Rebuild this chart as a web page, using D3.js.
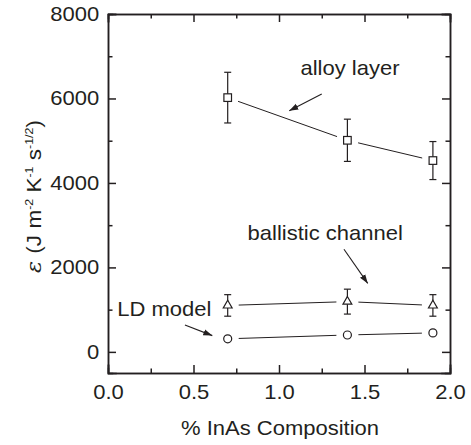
<!DOCTYPE html>
<meta charset="utf-8">
<style>
	body { margin: 0; background: #fff; }
	text { font-family: "Liberation Sans", Arial, sans-serif; fill: #231f20; }
	.axis path, .axis line { stroke: #231f20; stroke-width: 1.5px; }
	.dline { fill: none; stroke: #231f20; stroke-width: 1px; }
	.err { stroke: #231f20; stroke-width: 1.2px; }
	.mark { fill: #fff; stroke: #231f20; stroke-width: 1.2px; }
</style>
<body>
<script src="https://cdn.jsdelivr.net/npm/d3@7"></script>
<script>

// Data
var composition = [0.7, 1.4, 1.9];
var alloyLayer = [6020, 5010, 4530];
var alloyErr = [600, 500, 450];
var ballistic = [1100, 1190, 1100];
var ballisticErr = [255, 295, 255];
var ldModel = [310, 400, 450];

var xTicks = [0, 0.5, 1.0, 1.5, 2.0];
var xMinor = [0.25, 0.75, 1.25, 1.75];
var yTicks = [0, 2000, 4000, 6000, 8000];
var yMinor = [1000, 3000, 5000, 7000];

// annotations in data units
var notes = [
	{text: "alloy layer", x: 1.415, y: 6560, ax1: 1.25, ay1: 6105, ax2: 1.06, ay2: 5711},
	{text: "ballistic channel", x: 1.27, y: 2650, ax1: 1.38, ay1: 2431, ax2: 1.519, ay2: 1621},
	{text: "LD model", x: 0.329, y: 850, ax1: 0.45, ay1: 637, ax2: 0.61, ay2: 385}
];

var W = 471, H = 445;
var margin = {top: 14, right: 21, bottom: 72, left: 108},
	width = W - margin.left - margin.right,
	height = H - margin.top - margin.bottom;

var x = d3.scaleLinear().domain([0, 2]).range([0, width]);
var y = d3.scaleLinear().domain([-500, 8000]).range([height, 0]);

var svg = d3.select("body").append("svg")
		.attr("width", W)
		.attr("height", H)
	.append("g")
		.attr("transform", "translate(" + margin.left + "," + margin.top + ")");

svg.append("defs").append("marker")
	.attr("id", "arr")
	.attr("viewBox", "0 0 10 10")
	.attr("refX", 10).attr("refY", 5)
	.attr("markerWidth", 9).attr("markerHeight", 9)
	.attr("markerUnits", "userSpaceOnUse")
	.attr("orient", "auto")
	.append("path").attr("d", "M0,1.5 L10,5 L0,8.5 Z").attr("fill", "#231f20");

var stretch = "scale(1.1,1)";

// Axes (ticks pointing inward)
var gx = svg.append("g").attr("class", "axis").attr("transform", "translate(0," + height + ")")
	.call(d3.axisBottom(x).tickValues(xTicks).tickFormat(d3.format(".1f")).tickSize(-8).tickPadding(12));
gx.selectAll("text").style("font-size", "20px").attr("transform", stretch);
svg.append("g").attr("class", "axis").attr("transform", "translate(0," + height + ")")
	.call(d3.axisBottom(x).tickValues(xMinor).tickFormat("").tickSize(-4.5));

svg.append("g").attr("class", "axis")
	.call(d3.axisTop(x).tickValues(xTicks).tickFormat("").tickSize(-8));
svg.append("g").attr("class", "axis")
	.call(d3.axisTop(x).tickValues(xMinor).tickFormat("").tickSize(-4.5));

var gy = svg.append("g").attr("class", "axis")
	.call(d3.axisLeft(y).tickValues(yTicks).tickFormat(d3.format("d")).tickSize(-8).tickPadding(8));
gy.selectAll("text").style("font-size", "20px").attr("transform", stretch);
svg.append("g").attr("class", "axis")
	.call(d3.axisLeft(y).tickValues(yMinor).tickFormat("").tickSize(-4.5));

svg.append("g").attr("class", "axis").attr("transform", "translate(" + width + ",0)")
	.call(d3.axisRight(y).tickValues(yTicks).tickFormat("").tickSize(-8));
svg.append("g").attr("class", "axis").attr("transform", "translate(" + width + ",0)")
	.call(d3.axisRight(y).tickValues(yMinor).tickFormat("").tickSize(-4.5));

svg.selectAll(".axis .domain").attr("stroke-linecap", "square");

// connecting lines with gaps around markers
function drawSeries(vals, gap) {
	var pts = composition.map(function(c, i) { return [x(c), y(vals[i])]; });
	for (var i = 0; i < pts.length - 1; i++) {
		var a = pts[i], b = pts[i + 1];
		var dx = b[0] - a[0], dy = b[1] - a[1], L = Math.sqrt(dx * dx + dy * dy);
		svg.append("line").attr("class", "dline")
			.attr("x1", a[0] + dx / L * gap).attr("y1", a[1] + dy / L * gap)
			.attr("x2", b[0] - dx / L * gap).attr("y2", b[1] - dy / L * gap);
	}
}
drawSeries(alloyLayer, 11);
drawSeries(ballistic, 11);
drawSeries(ldModel, 11);

function drawErr(vals, errs) {
	composition.forEach(function(c, i) {
		var cx = x(c), t = y(vals[i] + errs[i]), b = y(vals[i] - errs[i]);
		svg.append("line").attr("class", "err").attr("x1", cx).attr("x2", cx).attr("y1", t).attr("y2", b);
		svg.append("line").attr("class", "err").attr("x1", cx - 3.5).attr("x2", cx + 3.5).attr("y1", t).attr("y2", t);
		svg.append("line").attr("class", "err").attr("x1", cx - 3.5).attr("x2", cx + 3.5).attr("y1", b).attr("y2", b);
	});
}
drawErr(alloyLayer, alloyErr);
drawErr(ballistic, ballisticErr);

svg.selectAll(".sq").data(composition).enter().append("rect")
	.attr("class", "mark")
	.attr("x", function(d) { return x(d) - 3.8; })
	.attr("y", function(d, i) { return y(alloyLayer[i]) - 3.8; })
	.attr("width", 7.6).attr("height", 7.6);

var tri = d3.symbol().type(d3.symbolTriangle).size(34);
svg.selectAll(".tri").data(composition).enter().append("path")
	.attr("class", "mark")
	.attr("d", tri)
	.attr("transform", function(d, i) { return "translate(" + x(d) + "," + y(ballistic[i]) + ")"; });

svg.selectAll(".circ").data(composition).enter().append("circle")
	.attr("class", "mark")
	.attr("cx", function(d) { return x(d); })
	.attr("cy", function(d, i) { return y(ldModel[i]); })
	.attr("r", 4);

// annotations
notes.forEach(function(n) {
	svg.append("text")
		.attr("transform", "translate(" + x(n.x) + "," + y(n.y) + ") " + stretch)
		.style("text-anchor", "middle")
		.style("font-size", "20px")
		.text(n.text);
	svg.append("line")
		.attr("x1", x(n.ax1)).attr("y1", y(n.ay1))
		.attr("x2", x(n.ax2)).attr("y2", y(n.ay2))
		.attr("stroke", "#231f20").attr("stroke-width", 1.1)
		.attr("marker-end", "url(#arr)");
});

// axis titles
svg.append("text")
	.attr("transform", "translate(" + (width / 2 + 1) + "," + (height + 62) + ") " + stretch)
	.style("text-anchor", "middle")
	.style("font-size", "20px")
	.text("% InAs Composition");

var yl = svg.append("text")
	.style("text-anchor", "middle")
	.style("font-size", "20px");
yl.append("tspan").style("font-family", "'DejaVu Serif', serif").style("font-style", "italic").text("ε ");
yl.append("tspan").text("(J m");
yl.append("tspan").attr("dy", -8).style("font-size", "11px").text("-2");
yl.append("tspan").attr("dy", 8).text(" K");
yl.append("tspan").attr("dy", -8).style("font-size", "11px").text("-1");
yl.append("tspan").attr("dy", 8).text(" s");
yl.append("tspan").attr("dy", -8).style("font-size", "11px").text("-1/2");
yl.append("tspan").attr("dy", 8).text(")");
var ylw = yl.node().getBBox().width;
yl.attr("transform", "translate(-67," + (196.5 - margin.top) + ") rotate(-90) scale(" + (153 / ylw) + ",1)");

</script>
</body>
